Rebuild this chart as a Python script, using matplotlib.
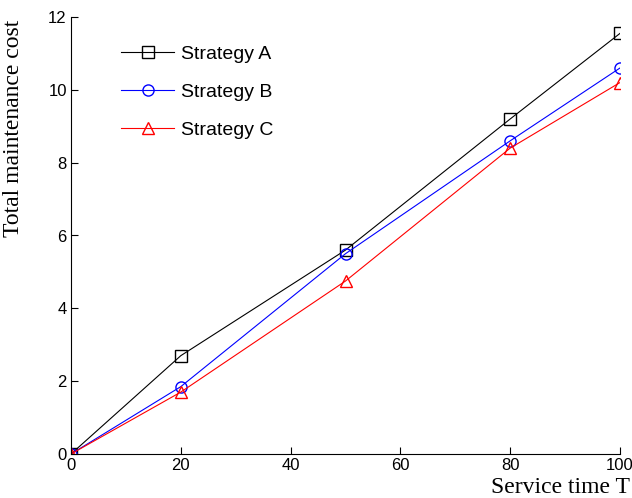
import matplotlib
matplotlib.use("Agg")
import matplotlib.pyplot as plt

# service time and cost for each maintenance strategy
service_time = [0, 20, 50, 80, 100]
cost_a = [0, 2.7, 5.6, 9.2, 11.55]
cost_b = [0, 1.85, 5.5, 8.6, 10.6]
cost_c = [0, 1.7, 4.75, 8.4, 10.2]

x_ticks = [0, 20, 40, 60, 80, 100]
y_ticks = [0, 2, 4, 6, 8, 10, 12]

plt.rcParams['font.family'] = ['Liberation Sans', 'DejaVu Sans']

fig = plt.figure(figsize=(6.32, 4.98), dpi=100)
ax = fig.add_axes([71 / 632, 1 - 454 / 498, 549 / 632, 437 / 498])

style = dict(linewidth=0.8, markerfacecolor='none', markeredgewidth=1.0)
ax.plot(service_time, cost_a, '-s', color='black', label='Strategy A', markersize=8, **style)
ax.plot(service_time, cost_b, '-o', color='blue', label='Strategy B', markersize=8, **style)
ax.plot(service_time, cost_c, '-^', color='red', label='Strategy C', markersize=9, **style)

ax.set_xlim(0, 100)
ax.set_ylim(0, 12)
ax.set_xticks(x_ticks)
ax.set_yticks(y_ticks)
ax.tick_params(direction='in', length=5, width=0.8, labelsize=12, pad=3)
for side in ['top', 'right']:
    ax.spines[side].set_visible(False)
for side in ['left', 'bottom']:
    ax.spines[side].set_linewidth(0.8)

ax.set_xlabel('Service time T', family='Liberation Serif', fontsize=17)
ax.set_ylabel('Total maintenance cost', family='Liberation Serif', fontsize=17)
ax.xaxis.set_label_coords(0.892, -0.052)
ax.yaxis.set_label_coords(-0.086, 0.745)

ax.legend(loc='upper left', bbox_to_anchor=(0.06, 0.975), frameon=False, fontsize=14,
          handlelength=2.7, handletextpad=0.35, labelspacing=1.05)

fig.savefig('out.png', dpi=100)
